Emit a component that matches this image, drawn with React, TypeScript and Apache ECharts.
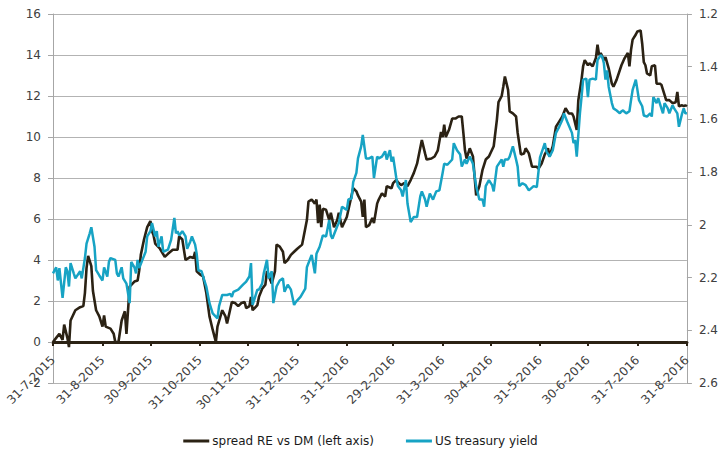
import React, { useEffect, useRef } from "react";
import * as echarts from "echarts";

const tickLabels = [
  "31-7-2015", "31-8-2015", "30-9-2015", "31-10-2015", "30-11-2015", "31-12-2015", "31-1-2016",
  "29-2-2016", "31-3-2016", "30-4-2016", "31-5-2016", "30-6-2016", "31-7-2016", "31-8-2016",
];

const leftTicks = { min: -2, max: 16, step: 2 };
const rightTicks = { min: 1.2, max: 2.6, step: 0.2 };

const spreadDates = [
  "31-7-2015", "2-8-2015", "4-8-2015", "6-8-2015", "7-8-2015", "9-8-2015", "10-8-2015", "11-8-2015", "14-8-2015", "17-8-2015",
  "19-8-2015", "20-8-2015", "21-8-2015", "22-8-2015", "24-8-2015", "25-8-2015", "27-8-2015", "29-8-2015", "31-8-2015", "1-9-2015",
  "2-9-2015", "5-9-2015", "7-9-2015", "8-9-2015", "10-9-2015", "12-9-2015", "14-9-2015", "15-9-2015", "17-9-2015", "20-9-2015",
  "22-9-2015", "23-9-2015", "24-9-2015", "26-9-2015", "28-9-2015", "30-9-2015", "1-10-2015", "2-10-2015", "3-10-2015", "6-10-2015",
  "9-10-2015", "11-10-2015", "14-10-2015", "17-10-2015", "18-10-2015", "20-10-2015", "22-10-2015", "25-10-2015", "27-10-2015", "28-10-2015",
  "29-10-2015", "31-10-2015", "2-11-2015", "4-11-2015", "6-11-2015", "8-11-2015", "10-11-2015", "11-11-2015", "14-11-2015", "16-11-2015",
  "17-11-2015", "20-11-2015", "22-11-2015", "24-11-2015", "26-11-2015", "28-11-2015", "29-11-2015", "1-12-2015", "2-12-2015", "3-12-2015",
  "6-12-2015", "7-12-2015", "9-12-2015", "11-12-2015", "12-12-2015", "15-12-2015", "17-12-2015", "18-12-2015", "20-12-2015", "22-12-2015",
  "23-12-2015", "25-12-2015", "27-12-2015", "29-12-2015", "31-12-2015", "3-1-2016", "4-1-2016", "6-1-2016", "7-1-2016", "9-1-2016",
  "11-1-2016", "12-1-2016", "13-1-2016", "14-1-2016", "15-1-2016", "16-1-2016", "18-1-2016", "20-1-2016", "21-1-2016", "23-1-2016",
  "25-1-2016", "26-1-2016", "28-1-2016", "31-1-2016", "1-2-2016", "3-2-2016", "4-2-2016", "6-2-2016", "7-2-2016", "9-2-2016",
  "10-2-2016", "11-2-2016", "12-2-2016", "14-2-2016", "16-2-2016", "17-2-2016", "19-2-2016", "20-2-2016", "22-2-2016", "24-2-2016",
  "25-2-2016", "28-2-2016", "29-2-2016", "2-3-2016", "3-3-2016", "5-3-2016", "7-3-2016", "9-3-2016", "11-3-2016", "13-3-2016",
  "15-3-2016", "18-3-2016", "20-3-2016", "21-3-2016", "24-3-2016", "26-3-2016", "28-3-2016", "30-3-2016", "31-3-2016", "1-4-2016",
  "2-4-2016", "4-4-2016", "6-4-2016", "8-4-2016", "10-4-2016", "12-4-2016", "13-4-2016", "14-4-2016", "15-4-2016", "17-4-2016",
  "19-4-2016", "21-4-2016", "23-4-2016", "25-4-2016", "27-4-2016", "29-4-2016", "2-5-2016", "4-5-2016", "5-5-2016", "7-5-2016",
  "8-5-2016", "9-5-2016", "11-5-2016", "12-5-2016", "14-5-2016", "16-5-2016", "17-5-2016", "19-5-2016", "21-5-2016", "22-5-2016",
  "24-5-2016", "26-5-2016", "29-5-2016", "30-5-2016", "1-6-2016", "3-6-2016", "5-6-2016", "6-6-2016", "8-6-2016", "10-6-2016",
  "12-6-2016", "14-6-2016", "16-6-2016", "18-6-2016", "20-6-2016", "21-6-2016", "23-6-2016", "24-6-2016", "26-6-2016", "27-6-2016",
  "28-6-2016", "30-6-2016", "1-7-2016", "3-7-2016", "5-7-2016", "6-7-2016", "7-7-2016", "8-7-2016", "10-7-2016", "11-7-2016",
  "13-7-2016", "15-7-2016", "16-7-2016", "18-7-2016", "21-7-2016", "23-7-2016", "25-7-2016", "26-7-2016", "27-7-2016", "28-7-2016",
  "30-7-2016", "31-7-2016", "2-8-2016", "3-8-2016", "4-8-2016", "5-8-2016", "6-8-2016", "8-8-2016", "9-8-2016", "11-8-2016",
  "12-8-2016", "14-8-2016", "15-8-2016", "17-8-2016", "18-8-2016", "20-8-2016", "22-8-2016", "24-8-2016", "25-8-2016", "26-8-2016",
  "28-8-2016", "29-8-2016", "30-8-2016", "31-8-2016",
];

const spreadValues = [
  0.0, 0.2, 0.4, 0.1, 0.85, 0.2, -0.25, 1.05, 1.55, 1.7,
  1.75, 2.4, 3.6, 4.2, 3.7, 2.5, 1.55, 1.25, 0.75, 1.3,
  0.75, 0.65, 0.4, 0.0, 0.0, 1.05, 1.5, 0.4, 2.7, 2.95,
  3.0, 3.5, 4.25, 5.0, 5.6, 5.9, 5.4, 5.2, 4.8, 4.55,
  4.15, 4.3, 4.5, 4.5, 5.15, 5.0, 4.0, 4.15, 4.1, 4.4,
  3.45, 3.3, 3.2, 2.4, 1.25, 0.6, 0.0, 0.75, 1.55, 1.25,
  0.9, 1.95, 1.9, 1.75, 1.9, 1.95, 1.65, 1.75, 2.2, 1.55,
  1.8, 2.2, 2.6, 2.8, 3.45, 2.85, 3.45, 4.75, 4.65, 4.4,
  3.85, 4.0, 4.25, 4.4, 4.55, 4.75, 5.15, 5.95, 6.85, 6.95,
  6.75, 6.95, 5.8, 6.7, 5.6, 6.5, 6.45, 5.95, 6.3, 5.6,
  5.95, 6.3, 5.6, 6.1, 6.45, 7.15, 7.5, 7.35, 7.15, 6.85,
  6.1, 6.95, 5.6, 5.7, 6.05, 5.8, 6.75, 6.95, 7.25, 7.1,
  7.6, 7.5, 7.75, 7.9, 7.8, 7.65, 7.75, 7.6, 7.9, 8.25,
  8.7, 9.85, 9.2, 8.9, 8.95, 9.05, 9.35, 10.25, 10.0, 10.6,
  10.0, 10.35, 10.9, 10.9, 11.0, 11.0, 10.2, 9.35, 8.95, 9.45,
  9.05, 7.15, 7.6, 8.4, 8.9, 9.05, 9.55, 10.85, 11.7, 12.0,
  12.45, 12.95, 12.3, 11.25, 11.15, 11.0, 10.2, 9.15, 9.2, 9.45,
  9.2, 8.55, 8.55, 8.45, 8.7, 9.15, 9.45, 9.05, 9.55, 10.5,
  10.75, 11.0, 11.4, 11.15, 11.15, 11.0, 10.35, 11.8, 12.8, 13.45,
  13.75, 13.5, 13.6, 13.45, 13.85, 14.5, 14.0, 14.1, 13.75, 13.9,
  13.35, 12.6, 12.45, 12.8, 13.5, 13.85, 14.1, 13.45, 14.25, 14.75,
  15.0, 15.15, 15.2, 14.55, 13.65, 13.5, 13.1, 13.0, 13.45, 13.5,
  12.6, 12.6, 12.55, 12.05, 11.8, 11.8, 11.65, 11.7, 12.2, 11.5,
  11.55, 11.5, 11.55, 11.5,
];

const yieldDates = [
  "31-7-2015", "2-8-2015", "3-8-2015", "4-8-2015", "6-8-2015", "8-8-2015", "9-8-2015", "10-8-2015", "11-8-2015", "13-8-2015",
  "14-8-2015", "17-8-2015", "18-8-2015", "20-8-2015", "21-8-2015", "23-8-2015", "24-8-2015", "26-8-2015", "27-8-2015", "29-8-2015",
  "31-8-2015", "1-9-2015", "3-9-2015", "4-9-2015", "5-9-2015", "8-9-2015", "9-9-2015", "10-9-2015", "12-9-2015", "13-9-2015",
  "15-9-2015", "17-9-2015", "18-9-2015", "20-9-2015", "21-9-2015", "22-9-2015", "23-9-2015", "25-9-2015", "27-9-2015", "28-9-2015",
  "30-9-2015", "1-10-2015", "3-10-2015", "4-10-2015", "5-10-2015", "7-10-2015", "8-10-2015", "11-10-2015", "13-10-2015", "15-10-2015",
  "16-10-2015", "17-10-2015", "18-10-2015", "20-10-2015", "22-10-2015", "23-10-2015", "25-10-2015", "26-10-2015", "28-10-2015", "29-10-2015",
  "30-10-2015", "1-11-2015", "3-11-2015", "4-11-2015", "6-11-2015", "8-11-2015", "11-11-2015", "12-11-2015", "14-11-2015", "17-11-2015",
  "19-11-2015", "20-11-2015", "21-11-2015", "24-11-2015", "27-11-2015", "29-11-2015", "1-12-2015", "2-12-2015", "3-12-2015", "6-12-2015",
  "7-12-2015", "9-12-2015", "10-12-2015", "12-12-2015", "13-12-2015", "15-12-2015", "16-12-2015", "18-12-2015", "20-12-2015", "22-12-2015",
  "23-12-2015", "25-12-2015", "27-12-2015", "29-12-2015", "30-12-2015", "2-1-2016", "5-1-2016", "6-1-2016", "9-1-2016", "11-1-2016",
  "12-1-2016", "14-1-2016", "16-1-2016", "18-1-2016", "20-1-2016", "21-1-2016", "22-1-2016", "25-1-2016", "26-1-2016", "28-1-2016",
  "31-1-2016", "1-2-2016", "3-2-2016", "4-2-2016", "6-2-2016", "7-2-2016", "9-2-2016", "10-2-2016", "12-2-2016", "14-2-2016",
  "16-2-2016", "17-2-2016", "19-2-2016", "20-2-2016", "22-2-2016", "24-2-2016", "25-2-2016", "27-2-2016", "28-2-2016", "29-2-2016",
  "2-3-2016", "3-3-2016", "5-3-2016", "6-3-2016", "8-3-2016", "9-3-2016", "11-3-2016", "13-3-2016", "15-3-2016", "17-3-2016",
  "18-3-2016", "20-3-2016", "21-3-2016", "23-3-2016", "25-3-2016", "27-3-2016", "29-3-2016", "31-3-2016", "1-4-2016", "3-4-2016",
  "6-4-2016", "7-4-2016", "9-4-2016", "11-4-2016", "12-4-2016", "14-4-2016", "15-4-2016", "17-4-2016", "19-4-2016", "21-4-2016",
  "23-4-2016", "25-4-2016", "26-4-2016", "27-4-2016", "29-4-2016", "1-5-2016", "2-5-2016", "4-5-2016", "7-5-2016", "8-5-2016",
  "9-5-2016", "11-5-2016", "12-5-2016", "14-5-2016", "16-5-2016", "17-5-2016", "18-5-2016", "20-5-2016", "22-5-2016", "24-5-2016",
  "27-5-2016", "29-5-2016", "31-5-2016", "3-6-2016", "4-6-2016", "6-6-2016", "8-6-2016", "10-6-2016", "12-6-2016", "14-6-2016",
  "15-6-2016", "17-6-2016", "20-6-2016", "21-6-2016", "22-6-2016", "23-6-2016", "25-6-2016", "26-6-2016", "27-6-2016", "29-6-2016",
  "30-6-2016", "1-7-2016", "3-7-2016", "5-7-2016", "6-7-2016", "8-7-2016", "9-7-2016", "10-7-2016", "11-7-2016", "12-7-2016",
  "13-7-2016", "15-7-2016", "16-7-2016", "18-7-2016", "20-7-2016", "21-7-2016", "22-7-2016", "24-7-2016", "26-7-2016", "27-7-2016",
  "28-7-2016", "30-7-2016", "31-7-2016", "1-8-2016", "3-8-2016", "4-8-2016", "6-8-2016", "8-8-2016", "9-8-2016", "10-8-2016",
  "12-8-2016", "13-8-2016", "15-8-2016", "16-8-2016", "17-8-2016", "19-8-2016", "20-8-2016", "22-8-2016", "23-8-2016", "25-8-2016",
  "26-8-2016", "28-8-2016", "29-8-2016", "30-8-2016", "31-8-2016",
];

const yieldValues = [
  2.184, 2.161, 2.211, 2.164, 2.277, 2.161, 2.176, 2.234, 2.145, 2.184,
  2.203, 2.176, 2.203, 2.126, 2.071, 2.032, 2.009, 2.083, 2.172, 2.192,
  2.211, 2.161, 2.196, 2.141, 2.126, 2.133, 2.184, 2.196, 2.161, 2.203,
  2.223, 2.297, 2.141, 2.161, 2.184, 2.133, 2.164, 2.133, 2.102, 2.044,
  2.024, 1.993, 2.044, 2.024, 2.083, 2.044, 2.102, 2.094, 2.056, 1.974,
  2.032, 2.024, 2.04, 2.024, 2.044, 2.091, 2.063, 2.044, 2.075, 2.11,
  2.172, 2.176, 2.215, 2.234, 2.297, 2.336, 2.355, 2.308, 2.266, 2.266,
  2.262, 2.273, 2.254, 2.246, 2.227, 2.215, 2.196, 2.145, 2.304, 2.246,
  2.246, 2.223, 2.184, 2.133, 2.203, 2.176, 2.297, 2.234, 2.211, 2.203,
  2.254, 2.227, 2.246, 2.304, 2.293, 2.273, 2.242, 2.161, 2.114, 2.184,
  2.11, 2.083, 2.04, 2.044, 1.982, 2.04, 2.052, 2.005, 1.993, 1.931,
  1.943, 1.904, 1.9, 1.838, 1.803, 1.748, 1.702, 1.659, 1.748, 1.748,
  1.741, 1.822, 1.741, 1.748, 1.741, 1.721, 1.752, 1.717, 1.76, 1.741,
  1.822, 1.853, 1.869, 1.892, 1.83, 1.919, 1.989, 1.97, 1.97, 1.892,
  1.873, 1.904, 1.931, 1.881, 1.904, 1.873, 1.869, 1.803, 1.768, 1.772,
  1.752, 1.69, 1.717, 1.733, 1.779, 1.752, 1.768, 1.741, 1.768, 1.853,
  1.904, 1.904, 1.931, 1.853, 1.83, 1.849, 1.873, 1.779, 1.752, 1.779,
  1.752, 1.752, 1.741, 1.702, 1.752, 1.779, 1.853, 1.842, 1.849, 1.869,
  1.853, 1.857, 1.744, 1.69, 1.721, 1.741, 1.717, 1.651, 1.628, 1.601,
  1.577, 1.608, 1.651, 1.69, 1.678, 1.741, 1.577, 1.515, 1.449, 1.445,
  1.515, 1.449, 1.445, 1.449, 1.375, 1.356, 1.363, 1.387, 1.449, 1.414,
  1.476, 1.538, 1.558, 1.566, 1.577, 1.569, 1.566, 1.577, 1.569, 1.527,
  1.488, 1.449, 1.488, 1.527, 1.55, 1.585, 1.589, 1.577, 1.589, 1.515,
  1.538, 1.519, 1.558, 1.577, 1.538, 1.558, 1.577, 1.546, 1.558, 1.577,
  1.628, 1.577, 1.558, 1.577, 1.577,
];

const seriesNames = ["spread RE vs DM (left axis)", "US treasury yield"];

function buildCategories(): string[] {
  const out: string[] = [];
  const start = Date.UTC(2015, 6, 31);
  const end = Date.UTC(2016, 7, 31);
  for (let t = start; t <= end; t += 86400000) {
    const d = new Date(t);
    out.push(`${d.getUTCDate()}-${d.getUTCMonth() + 1}-${d.getUTCFullYear()}`);
  }
  return out;
}

export default function App() {
  const ref = useRef<HTMLDivElement>(null);
  useEffect(() => {
    if (!ref.current) return;
    const chart = echarts.init(ref.current, undefined, { renderer: "svg" });
    const categories = buildCategories();
    const isTick = (_i: number, v: string) => tickLabels.includes(v);
    const font = "DejaVu Sans, Verdana, sans-serif";
    const labelColor = "#404040";
    chart.setOption({
      animation: false,
      backgroundColor: "#ffffff",
      grid: { left: 53, right: 32, top: 14, bottom: 70, containLabel: false },
      legend: {
        bottom: 1,
        left: "center",
        icon: "rect",
        itemWidth: 26,
        itemHeight: 3,
        itemGap: 32,
        textStyle: { fontFamily: font, fontSize: 12, color: "#1a1a1a", padding: [0, 0, 0, -2] },
        data: seriesNames,
      },
      xAxis: {
        type: "category",
        data: categories,
        boundaryGap: false,
        axisLine: { onZero: true, onZeroAxisIndex: 0, lineStyle: { color: "#2b2214", width: 3 } },
        axisTick: { interval: isTick, length: 4, lineStyle: { color: "#2b2214", width: 2 } },
        axisLabel: {
          interval: isTick,
          rotate: 45,
          margin: -25,
          fontFamily: font,
          fontSize: 12,
          color: labelColor,
        },
        splitLine: { show: false },
      },
      yAxis: [
        {
          type: "value",
          min: leftTicks.min,
          max: leftTicks.max,
          interval: leftTicks.step,
          axisLine: { show: true, lineStyle: { color: "#a6a6a6", width: 1 } },
          axisTick: { show: true, length: 5, lineStyle: { color: "#a6a6a6" } },
          axisLabel: { margin: 12, fontFamily: font, fontSize: 12, color: labelColor },
          splitLine: { show: true, lineStyle: { color: "#b3b3b3", width: 1 } },
        },
        {
          type: "value",
          min: rightTicks.min,
          max: rightTicks.max,
          interval: rightTicks.step,
          inverse: true,
          position: "right",
          axisLine: { show: true, lineStyle: { color: "#a6a6a6", width: 1 } },
          axisTick: { show: true, length: 5, lineStyle: { color: "#a6a6a6" } },
          axisLabel: { margin: 12, fontFamily: font, fontSize: 12, color: labelColor },
          splitLine: { show: false },
        },
      ],
      series: [
        {
          name: seriesNames[0],
          type: "line",
          yAxisIndex: 0,
          showSymbol: false,
          symbol: "none",
          color: "#2b2214",
          lineStyle: { width: 2.6, color: "#2b2214" },
          data: spreadDates.map((d, i) => [d, spreadValues[i]]),
        },
        {
          name: seriesNames[1],
          type: "line",
          yAxisIndex: 1,
          showSymbol: false,
          symbol: "none",
          color: "#17a3c4",
          lineStyle: { width: 2.5, color: "#17a3c4" },
          data: yieldDates.map((d, i) => [d, yieldValues[i]]),
        },
      ],
    });
    return () => chart.dispose();
  }, []);
  return (
    <div
      ref={ref}
      style={{ position: "fixed", left: 0, top: 0, width: 721, height: 453, background: "#fff" }}
    />
  );
}
